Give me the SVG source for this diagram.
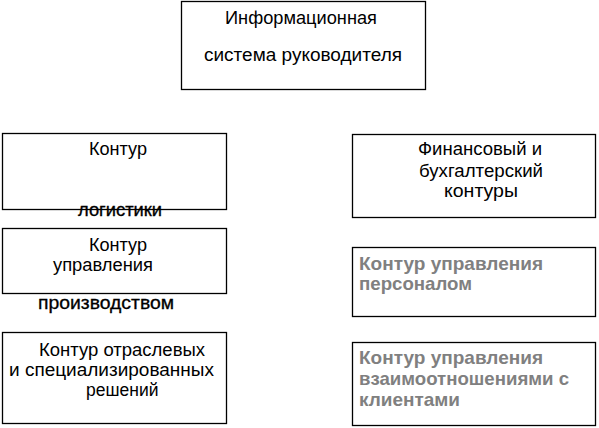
<svg xmlns="http://www.w3.org/2000/svg" width="599" height="428" viewBox="0 0 599 428">
<style>
.box{fill:#fff;stroke:#000;stroke-width:1.3}
.t{font-family:"Liberation Sans",Arial,sans-serif;font-size:17.5px;fill:#000}
.b{font-family:"Liberation Sans",Arial,sans-serif;font-size:17.5px;fill:#000;stroke:#000;stroke-width:0.3}
.g{font-family:"Liberation Sans",Arial,sans-serif;font-size:19px;font-weight:bold;fill:#808080}
</style>
<rect width="599" height="428" fill="#fff"/>
<g id="connectors"></g>
<g id="node-top">
<rect class="box" x="181.5" y="1.5" width="244" height="88"/>
<text class="t" x="225" y="24" textLength="152" lengthAdjust="spacingAndGlyphs">Информационная</text>
<text class="t" x="204" y="61" textLength="198" lengthAdjust="spacingAndGlyphs">система руководителя</text>
</g>
<g id="node-logistics">
<rect class="box" x="2.5" y="133.5" width="224" height="76"/>
<text class="t" x="89" y="155" textLength="58" lengthAdjust="spacingAndGlyphs">Контур</text>
<text class="b" x="78" y="216" textLength="84" lengthAdjust="spacingAndGlyphs">логистики</text>
</g>
<g id="node-production">
<rect class="box" x="2.5" y="228.5" width="224" height="65"/>
<text class="t" x="89" y="251" textLength="58" lengthAdjust="spacingAndGlyphs">Контур</text>
<text class="t" x="53" y="271" textLength="100" lengthAdjust="spacingAndGlyphs">управления</text>
<text class="b" x="38" y="309" textLength="136" lengthAdjust="spacingAndGlyphs">производством</text>
</g>
<g id="node-industry">
<rect class="box" x="2.5" y="332.5" width="224" height="91"/>
<text class="t" x="39" y="356" textLength="166" lengthAdjust="spacingAndGlyphs">Контур отраслевых</text>
<text class="t" x="9" y="376" textLength="205" lengthAdjust="spacingAndGlyphs">и специализированных</text>
<text class="t" x="86" y="396">решений</text>
</g>
<g id="node-finance">
<rect class="box" x="352.5" y="134.5" width="243" height="83"/>
<text class="t" x="418" y="155" textLength="124" lengthAdjust="spacingAndGlyphs">Финансовый и</text>
<text class="t" x="419" y="177" textLength="124" lengthAdjust="spacingAndGlyphs">бухгалтерский</text>
<text class="t" x="444" y="197" textLength="74" lengthAdjust="spacingAndGlyphs">контуры</text>
</g>
<g id="node-personnel">
<rect class="box" x="352.5" y="247.5" width="243" height="69"/>
<text class="g" x="359" y="270" textLength="184" lengthAdjust="spacingAndGlyphs">Контур управления</text>
<text class="g" x="359" y="290" textLength="113" lengthAdjust="spacingAndGlyphs">персоналом</text>
</g>
<g id="node-clients">
<rect class="box" x="352.5" y="342.5" width="243" height="83"/>
<text class="g" x="359" y="364" textLength="184" lengthAdjust="spacingAndGlyphs">Контур управления</text>
<text class="g" x="359" y="385" textLength="210" lengthAdjust="spacingAndGlyphs">взаимоотношениями с</text>
<text class="g" x="359" y="406" textLength="101" lengthAdjust="spacingAndGlyphs">клиентами</text>
</g>
</svg>
